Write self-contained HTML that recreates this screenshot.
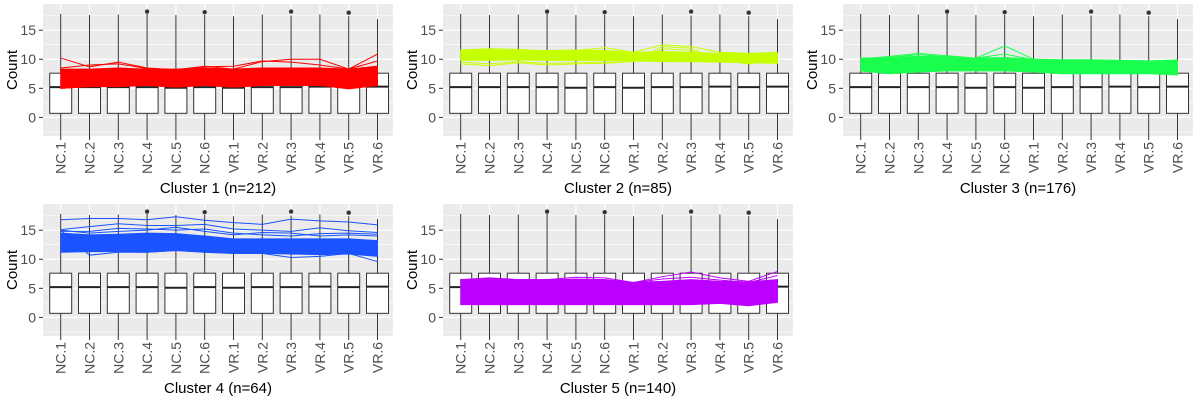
<!DOCTYPE html>
<html><head><meta charset="utf-8">
<style>
html,body{margin:0;padding:0;background:#fff;}
svg{display:block;font-family:"Liberation Sans",sans-serif;}
</style></head>
<body>
<svg id="chart" width="1200" height="400" viewBox="0 0 1200 400" xmlns="http://www.w3.org/2000/svg"></svg>
<script>
const categories=["NC.1","NC.2","NC.3","NC.4","NC.5","NC.6","VR.1","VR.2","VR.3","VR.4","VR.5","VR.6"];
const yTicks=[0,5,10,15];
const whiskerHi=[17.8,17.6,17.7,17.8,17.6,17.6,17.4,17.7,17.5,17.7,17.4,16.9];
const boxQ1=[0.7,0.7,0.7,0.7,0.7,0.7,0.7,0.7,0.7,0.7,0.7,0.7];
const boxQ3=[7.6,7.6,7.6,7.6,7.6,7.6,7.6,7.6,7.6,7.6,7.6,7.6];
const medians=[5.2,5.2,5.2,5.2,5.1,5.2,5.1,5.2,5.2,5.3,5.2,5.3];
const outliers=[[3,18.2],[5,18.1],[8,18.2],[10,18.0]];
const clusterTitles=["Cluster 1 (n=212)","Cluster 2 (n=85)","Cluster 3 (n=176)","Cluster 4 (n=64)","Cluster 5 (n=140)"];
const clusterColors=["#ff0000","#c6ff00","#1aff4d","#1a53ff","#bb00ff"];
const c1Lo=[5.0,5.3,5.3,5.5,5.2,5.5,5.2,5.5,5.5,5.5,5.0,5.5];
const c1Hi=[8.3,8.3,8.5,8.3,8.3,8.5,8.3,8.5,8.5,8.5,8.3,8.8];
const c1Extra=[[10.2,8.7,9.5,8.5,8.2,8.8,8.3,9.6,10.0,10.0,8.3,10.9],[8.5,9.0,9.2,8.4,8.2,8.7,8.8,9.7,9.5,9.0,8.3,9.7],[5.0,5.3,5.5,5.5,5.2,5.5,5.2,5.5,5.5,5.5,4.9,5.5]];
const c2Lo=[9.8,9.8,9.9,9.8,9.8,9.8,9.7,9.6,9.6,9.5,9.4,9.3];
const c2Hi=[11.6,11.6,11.5,11.5,11.6,11.5,11.2,11.3,11.2,11.0,11.0,11.0];
const c2Extra=[[11.6,11.8,11.7,11.4,11.5,12.0,11.2,12.5,12.2,11.2,11.0,11.2],[9.2,8.9,9.4,9.0,9.2,9.3,9.6,11.8,11.5,9.8,9.2,9.8],[9.5,9.2,9.6,9.3,9.4,9.5,9.6,12.2,11.9,9.6,9.4,9.6]];
const c3Lo=[8.0,7.5,7.8,8.0,8.0,8.0,7.8,7.5,7.5,7.5,7.5,7.3];
const c3Hi=[10.2,10.3,10.5,10.4,10.2,10.3,10.0,9.9,9.9,9.8,9.7,9.8];
const c3Extra=[[10.0,10.5,11.0,10.6,10.2,12.3,10.0,9.9,9.9,9.8,9.7,9.9],[9.8,10.3,10.8,10.4,10.2,10.9,9.9,9.8,9.8,9.7,9.6,9.8]];
const c4Lo=[11.2,11.3,11.3,11.2,11.5,11.2,11.0,11.0,10.9,10.8,10.9,10.5];
const c4Hi=[14.5,14.2,14.3,14.5,14.4,14.0,13.5,13.5,13.5,13.5,13.5,13.2];
const c4Extra=[[16.8,17.0,17.0,16.8,17.3,16.7,16.3,16.0,16.9,16.6,16.4,15.9],[15.1,15.6,16.1,15.8,15.8,16.0,15.2,15.0,14.8,15.4,14.9,14.6],[15.0,10.7,11.2,11.2,11.5,11.2,11.0,11.0,10.3,10.5,11.0,9.6],[14.8,14.8,15.3,15.2,15.0,15.2,14.5,14.2,14.0,14.4,14.5,14.3],[15.0,14.5,14.8,15.0,15.5,14.8,14.2,14.6,14.5,14.0,14.2,14.0]];
const c5Lo=[2.2,2.2,2.2,2.2,2.2,2.2,2.2,2.2,2.2,2.4,2.0,2.6];
const c5Hi=[6.5,6.7,6.5,6.5,6.5,6.5,6.0,6.2,6.5,6.2,6.1,6.5];
const c5Extra=[[6.5,6.8,6.5,6.5,6.9,6.8,6.0,7.0,7.8,6.8,6.2,7.9],[6.3,6.5,6.4,6.4,6.6,6.5,6.0,6.6,6.9,6.4,6.0,7.2]];

const clusterLo=[c1Lo,c2Lo,c3Lo,c4Lo,c5Lo];
const clusterHi=[c1Hi,c2Hi,c3Hi,c4Hi,c5Hi];
const clusterExtra=[c1Extra,c2Extra,c3Extra,c4Extra,c5Extra];

const NS="http://www.w3.org/2000/svg";
const svg=document.getElementById('chart');
function mk(tag,attrs,parent){const e=document.createElementNS(NS,tag);for(const k in attrs)e.setAttribute(k,attrs[k]);(parent||svg).appendChild(e);return e;}

const offsets=[[0,0],[400,0],[800,0],[0,200],[400,200]];
const PL=43,PR=393,PT=4,PB=136;
const yMin=-3.2,yMax=19.5;
function yS(v){return PB-(v-yMin)/(yMax-yMin)*(PB-PT);}
function xS(i){return 60.7+28.8*i;}

offsets.forEach((off,ci)=>{
  const g=mk('g',{transform:`translate(${off[0]},${off[1]})`});
  
  
  const bg=mk('rect',{x:PL,y:PT,width:PR-PL,height:PB-PT,fill:'#ebebeb'},g);
  
  
  // minor grid
  for(let v=-2.5;v<=17.5;v+=5){mk('line',{x1:PL,x2:PR,y1:yS(v),y2:yS(v),stroke:'#fff','stroke-width':0.6},g);}
  yTicks.forEach(v=>{mk('line',{x1:PL,x2:PR,y1:yS(v),y2:yS(v),stroke:'#fff','stroke-width':1.2},g);
    const t=mk('text',{x:36,y:yS(v)+5,'text-anchor':'end','font-size':14,fill:'#4d4d4d'},g);t.textContent=v;
    
    
    mk('line',{x1:39,x2:PL,y1:yS(v),y2:yS(v),stroke:'#333','stroke-width':1},g);});
  categories.forEach((c,i)=>{mk('line',{x1:xS(i),x2:xS(i),y1:PT,y2:PB,stroke:'#fff','stroke-width':1.2},g);});
  // boxes
  categories.forEach((c,i)=>{
    const x=xS(i),w=22;
    const wl=mk('line',{x1:x,x2:x,y1:yS(whiskerHi[i]),y2:PB,stroke:'#333','stroke-width':1},g);
    
    
    const b=mk('rect',{x:x-w/2,y:yS(boxQ3[i]),width:w,height:yS(boxQ1[i])-yS(boxQ3[i]),fill:'#fff',stroke:'#333','stroke-width':1},g);
    
    
    mk('line',{x1:x-w/2,x2:x+w/2,y1:yS(medians[i]),y2:yS(medians[i]),stroke:'#222','stroke-width':2},g);
    mk('line',{x1:x,x2:x,y1:PB,y2:PB+4,stroke:'#333','stroke-width':1},g);
    const t=mk('text',{transform:`translate(${x+5},${PB+6}) rotate(-90)`,'text-anchor':'end','font-size':14,fill:'#4d4d4d'},g);
    t.textContent=c;
    
    
  });
  outliers.forEach(o=>{const d=mk('circle',{cx:xS(o[0]),cy:yS(o[1]),r:2.2,fill:'#333'},g);
    
    });
  // series band
  const col=clusterColors[ci],lo=clusterLo[ci],hi=clusterHi[ci];
  let pts=hi.map((v,i)=>xS(i)+','+yS(v)).concat(lo.map((v,i)=>[i,v]).reverse().map(p=>xS(p[0])+','+yS(p[1])));
  const band=mk('polygon',{points:pts.join(' '),fill:col,stroke:col,'stroke-width':1},g);
  
  
  clusterExtra[ci].forEach(arr=>{
    const pl=mk('polyline',{points:arr.map((v,i)=>xS(i)+','+yS(v)).join(' '),fill:'none',stroke:col,'stroke-width':1},g);
    
    
  });
  const yt=mk('text',{transform:`translate(17,${(PT+PB)/2}) rotate(-90)`,'text-anchor':'middle','font-size':15,fill:'#000'},g);
  yt.textContent='Count';
  
  
  const xt=mk('text',{x:(PL+PR)/2,y:193,'text-anchor':'middle','font-size':15,fill:'#000'},g);
  xt.textContent=clusterTitles[ci];
  
  
});
</script>
</body></html>
